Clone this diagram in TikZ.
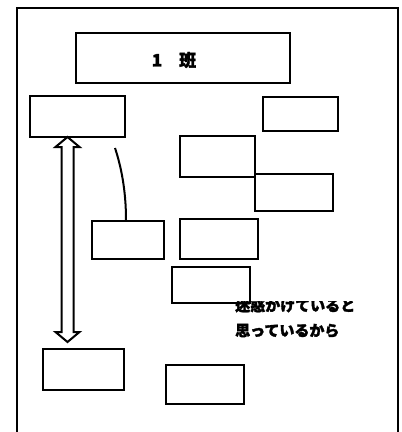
\documentclass[tikz,border=0pt]{standalone}
\usepackage{fontspec}
\newfontfamily\jp[BoldFeatures={FakeBold=2}]{Noto Sans CJK JP}
\usetikzlibrary{calc}
\begin{document}
\begin{tikzpicture}[x=1pt,y=-1pt,
  box/.style={draw, line width=2.4pt, rectangle, inner sep=0pt, anchor=north west},
  lbl/.style={font=\jp\bfseries, inner sep=0pt},
  link/.style={line width=2pt},
  blockarrow/.style={draw, line width=2pt, line join=miter, fill=white}]
\useasboundingbox (0,0) rectangle (402,432);
\clip (0,0) rectangle (402,432);
% outer frame
\node[box, minimum width=381pt, minimum height=440pt] (frame) at (16,7) {};
% boxes
\node[box, minimum width=214pt, minimum height=50pt] (title) at (75,32) {};
\node[lbl, font=\jp\bfseries\fontsize{17}{20}\selectfont] (titletxt) at (174,60) {1　班};
\node[box, minimum width=95pt, minimum height=41pt] (A) at (29,95) {};
\node[box, minimum width=75pt, minimum height=34pt] (B) at (262,96) {};
\node[box, minimum width=75pt, minimum height=41pt] (C) at (179,135) {};
\node[box, minimum width=78pt, minimum height=37pt] (D) at (254,173) {};
\node[box, minimum width=72pt, minimum height=38pt] (E) at (91,220) {};
\node[box, minimum width=78pt, minimum height=40pt] (F) at (179,218) {};
\node[box, minimum width=78pt, minimum height=36pt] (G) at (171,266) {};
\node[box, minimum width=81pt, minimum height=41pt] (H) at (42,348) {};
\node[box, minimum width=78pt, minimum height=39pt] (I) at (165,364) {};
% curved connector
\coordinate (cstart) at (115,148);
\draw[link] (cstart) .. controls (121,166) and (126,190) .. (E.north -| 126,0);
% double block arrow between A and H
\coordinate (atop) at (67.5,137);
\coordinate (abot) at (67.5,342);
\draw[blockarrow] (atop) -- ++(12,10) -- ++(-6,0) |- ($(abot)+(6,-10)$) -- ++(6,0) -- (abot)
  -- ++(-12,-10) -- ++(6,0) |- ($(atop)+(-6,10)$) -- ++(-6,0) -- cycle;
% text, top clipped
\begin{scope}
\clip (200,301) rectangle (402,350);
\node[lbl, font=\jp\bfseries\fontsize{15}{25}\selectfont, anchor=north west, align=left] (note) at (235,298) {迷惑かけていると\\思っているから};
\end{scope}
\end{tikzpicture}
\end{document}
